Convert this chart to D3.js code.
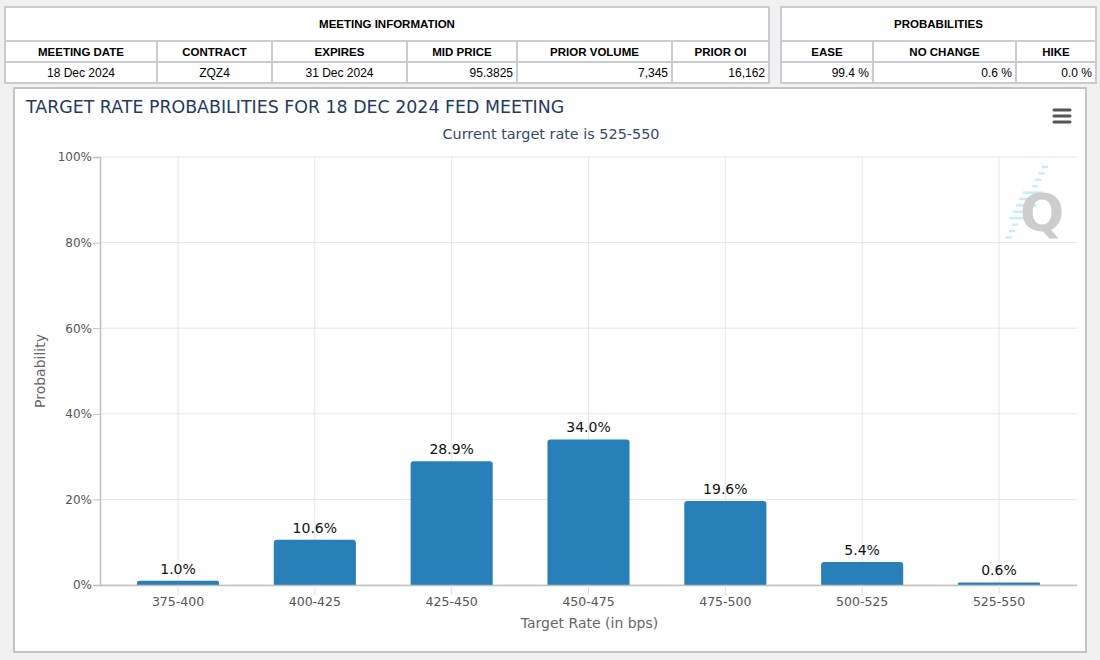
<!DOCTYPE html>
<html>
<head>
<meta charset="utf-8">
<script src="https://cdn.jsdelivr.net/npm/d3@7"></script>
<style>
  body { margin: 0; background: #f1f1f1; }
  svg { display: block; }
</style>
</head>
<body>
<div id="chart"></div>
<script>
// 表のデータ
const meetingHeaders = ["MEETING DATE", "CONTRACT", "EXPIRES", "MID PRICE", "PRIOR VOLUME", "PRIOR OI"];
const meetingValues = ["18 Dec 2024", "ZQZ4", "31 Dec 2024", "95.3825", "7,345", "16,162"];
const probHeaders = ["EASE", "NO CHANGE", "HIKE"];
const probValues = ["99.4 %", "0.6 %", "0.0 %"];

// グラフのデータ
const rates = ["375-400", "400-425", "425-450", "450-475", "475-500", "500-525", "525-550"];
const probs = [1.0, 10.6, 28.9, 34.0, 19.6, 5.4, 0.6];
const yTicks = [0, 20, 40, 60, 80, 100];

const svg = d3.select("#chart")
              .append("svg")
              .attr("width", 1100)
              .attr("height", 660);

// 表を描く
function drawTable(x0, colEdges, title, headers, values, aligns) {
    const g = svg.append("g");
    const x1 = colEdges[colEdges.length - 1];
    const rows = [7, 41, 62, 83];
    const line = "#c9ccd3";

    g.append("rect")
     .attr("x", x0).attr("y", rows[0])
     .attr("width", x1 - x0).attr("height", rows[3] - rows[0])
     .attr("fill", "#fff")
     .attr("stroke", line).attr("stroke-width", 2);

    [rows[1], rows[2]].forEach(y => {
        g.append("line").attr("x1", x0).attr("x2", x1).attr("y1", y).attr("y2", y)
         .attr("stroke", line).attr("stroke-width", 2);
    });
    colEdges.slice(1, -1).forEach(x => {
        g.append("line").attr("x1", x).attr("x2", x).attr("y1", rows[1]).attr("y2", rows[3])
         .attr("stroke", line).attr("stroke-width", 2);
    });

    g.append("text")
     .attr("x", (x0 + x1) / 2).attr("y", 28)
     .attr("text-anchor", "middle")
     .attr("font-family", "Liberation Sans, Arial, sans-serif")
     .attr("font-weight", "bold").attr("font-size", "11.5px")
     .text(title);

    headers.forEach((h, i) => {
        const l = colEdges[i], r = colEdges[i + 1];
        g.append("text")
         .attr("x", (l + r) / 2).attr("y", 56)
         .attr("text-anchor", "middle")
         .attr("font-family", "Liberation Sans, Arial, sans-serif")
         .attr("font-weight", "bold").attr("font-size", "11.5px")
         .text(h);
        const a = aligns[i];
        g.append("text")
         .attr("x", a === "middle" ? (l + r) / 2 : r - 4).attr("y", 77)
         .attr("text-anchor", a)
         .attr("font-family", "Liberation Sans, Arial, sans-serif")
         .attr("font-size", "12px")
         .text(values[i]);
    });
}

drawTable(5, [5, 157, 272, 407, 517, 672, 769], "MEETING INFORMATION",
          meetingHeaders, meetingValues, ["middle", "middle", "middle", "end", "end", "end"]);
drawTable(781, [781, 873, 1016, 1096], "PROBABILITIES",
          probHeaders, probValues, ["end", "end", "end"]);

// グラフの枠
svg.append("rect")
   .attr("x", 14).attr("y", 88)
   .attr("width", 1072).attr("height", 564)
   .attr("fill", "#fff")
   .attr("stroke", "#c4c4c4").attr("stroke-width", 2);

const font = "DejaVu Sans, sans-serif";
const plot = { left: 100, right: 1077, top: 157, bottom: 585 };

const x = d3.scaleBand()
            .domain(rates)
            .range([plot.left + 9.6, plot.right - 9.6])
            .paddingInner(0.4)
            .paddingOuter(0.2);
const y = d3.scaleLinear()
            .domain([0, 100])
            .range([plot.bottom, plot.top]);

// グリッド線
svg.append("g")
   .selectAll("line")
   .data(yTicks)
   .enter()
   .append("line")
   .attr("x1", plot.left).attr("x2", plot.right)
   .attr("y1", d => y(d)).attr("y2", d => y(d))
   .attr("stroke", "#e6e6e6");

svg.append("g")
   .selectAll("line")
   .data(rates)
   .enter()
   .append("line")
   .attr("x1", d => x(d) + x.bandwidth() / 2).attr("x2", d => x(d) + x.bandwidth() / 2)
   .attr("y1", plot.top).attr("y2", plot.bottom)
   .attr("stroke", "#e6e6e6");

// 棒の描画（上だけ角丸）
const r = 3;
svg.append("g")
   .selectAll("path")
   .data(probs)
   .enter()
   .append("path")
   .attr("fill", "#2980b9")
   .attr("d", (d, i) => {
       const x0 = x(rates[i]), w = x.bandwidth();
       const yt = y(d), yb = y(0);
       const rr = Math.min(r, (yb - yt) / 2);
       return `M${x0},${yb} V${yt + rr} Q${x0},${yt} ${x0 + rr},${yt}` +
              ` H${x0 + w - rr} Q${x0 + w},${yt} ${x0 + w},${yt + rr} V${yb} Z`;
   });

// 値のラベル
svg.append("g")
   .selectAll("text")
   .data(probs)
   .enter()
   .append("text")
   .attr("x", (d, i) => x(rates[i]) + x.bandwidth() / 2)
   .attr("y", d => y(d) - 7)
   .attr("text-anchor", "middle")
   .attr("font-family", font)
   .attr("font-size", "14px")
   .attr("fill", "#111")
   .text(d => d.toFixed(1) + "%");

// 軸
const yAxis = d3.axisLeft(y)
                .tickValues(yTicks)
                .tickFormat(d => d + "%")
                .tickSize(7)
                .tickPadding(1);
const yg = svg.append("g")
              .attr("transform", `translate(${plot.left},0)`)
              .call(yAxis);
yg.select(".domain").attr("stroke", "#c0c0c0").attr("stroke-width", 1.5);
yg.selectAll(".tick line").attr("stroke", "#c0c0c0");
yg.selectAll(".tick text")
  .attr("font-family", font).attr("font-size", "12px").attr("fill", "#555");

const xAxis = d3.axisBottom(x).tickSize(10).tickPadding(2).tickSizeOuter(0);
const xg = svg.append("g")
              .attr("transform", `translate(0,${plot.bottom})`)
              .call(xAxis);
xg.select(".domain").attr("d", `M${plot.left},0.5H${plot.right}`)
  .attr("stroke", "#c0c0c0").attr("stroke-width", 1.5);
xg.selectAll(".tick line").attr("stroke", "#e0e0e0");
xg.selectAll(".tick text")
  .attr("font-family", font).attr("font-size", "12.5px").attr("fill", "#555");

// タイトル
svg.append("text")
   .attr("x", 26).attr("y", 113)
   .attr("font-family", font).attr("font-size", "17.4px")
   .attr("fill", "#253a5e")
   .text("TARGET RATE PROBABILITIES FOR 18 DEC 2024 FED MEETING");
svg.append("text")
   .attr("x", 551).attr("y", 139)
   .attr("text-anchor", "middle")
   .attr("font-family", font).attr("font-size", "14.4px")
   .attr("fill", "#34486a")
   .text("Current target rate is 525-550");

svg.append("text")
   .attr("transform", `translate(45,${(plot.top + plot.bottom) / 2}) rotate(-90)`)
   .attr("text-anchor", "middle")
   .attr("font-family", font).attr("font-size", "14px")
   .attr("fill", "#666")
   .text("Probability");
svg.append("text")
   .attr("x", (plot.left + plot.right) / 2 + 1).attr("y", 628)
   .attr("text-anchor", "middle")
   .attr("font-family", font).attr("font-size", "14px")
   .attr("fill", "#666")
   .text("Target Rate (in bps)");

// メニューアイコン
svg.append("g")
   .selectAll("line")
   .data([110, 116, 122])
   .enter()
   .append("line")
   .attr("x1", 1054).attr("x2", 1070)
   .attr("y1", d => d).attr("y2", d => d)
   .attr("stroke", "#555").attr("stroke-width", 3)
   .attr("stroke-linecap", "round");

// 透かしロゴ
const logo = svg.append("g").attr("opacity", 0.9);
logo.selectAll("line")
    .data(d3.range(12))
    .enter()
    .append("line")
    .attr("x1", i => 1046 - i * 3.3 - (i > 3 && i < 9 ? 10 : 4))
    .attr("x2", i => 1048 - i * 3.3 + (i > 3 && i < 9 ? 8 : 0))
    .attr("y1", i => 167 + i * 6.4)
    .attr("y2", i => 167 + i * 6.4)
    .attr("stroke", "#c4eafb").attr("stroke-width", 2.5);
logo.append("text")
    .attr("x", 1042).attr("y", 231)
    .attr("text-anchor", "middle")
    .attr("font-family", "DejaVu Sans, sans-serif")
    .attr("font-weight", "bold").attr("font-size", "52px")
    .attr("fill", "#c8c8c8")
    .text("Q");
</script>
</body>
</html>
